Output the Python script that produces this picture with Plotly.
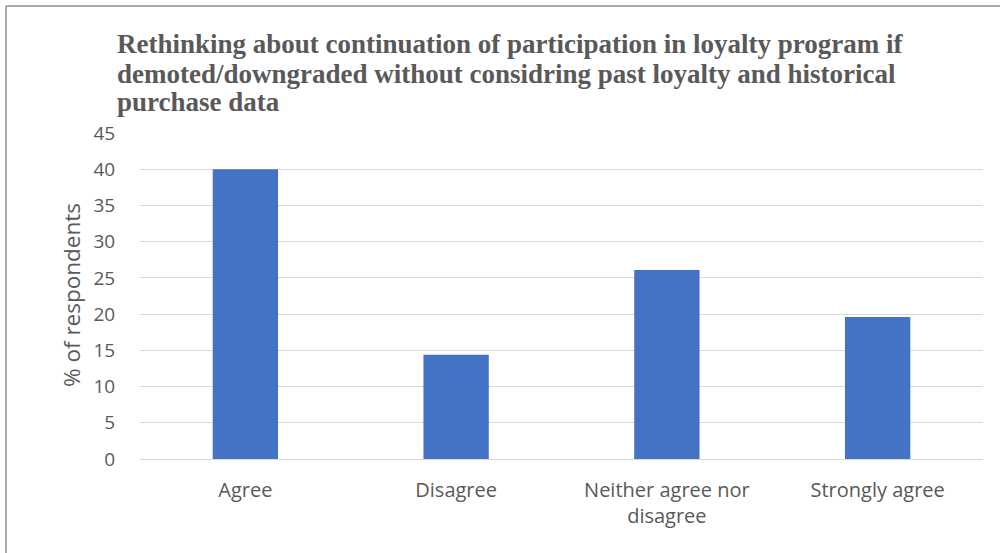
import plotly.graph_objects as go

categories = ["Agree", "Disagree", "Neither agree nor<br>disagree", "Strongly agree"]
values = [40.0, 14.4, 26.1, 19.6]
y_ticks = [0, 5, 10, 15, 20, 25, 30, 35, 40, 45]
title_lines = [
    "Rethinking about continuation of participation in loyalty program if",
    "demoted/downgraded without considring past loyalty and historical",
    "purchase data",
]
y_title = "% of respondents"

W, H = 1000, 553
L, R, T, B = 140, 17, 133, 94
pw, ph = W - L - R, H - T - B

fig = go.Figure(go.Bar(
    x=categories, y=values, width=0.31,
    marker=dict(color="#4472C4", line=dict(width=0)),
))

def px_x(p):
    return (p - L) / pw

def px_y(p):
    return 1 - (p - T) / ph

annotations = []
baselines = [44, 74, 102]
for line, yb in zip(title_lines, baselines):
    annotations.append(dict(
        text="<b>" + line + "</b>", xref="paper", yref="paper",
        x=px_x(115), y=px_y(yb), xanchor="left", yanchor="middle",
        showarrow=False, font=dict(family="Liberation Serif", size=27, color="#595959"),
    ))
annotations.append(dict(
    text=y_title, xref="paper", yref="paper", x=px_x(71), y=px_y(295),
    xanchor="center", yanchor="middle", textangle=-90, showarrow=False,
    font=dict(family="Open Sans", size=22.5, color="#595959"),
))

shapes = [
    dict(type="line", xref="paper", yref="paper", x0=px_x(6), x1=px_x(1005), y0=px_y(6), y1=px_y(6),
         line=dict(color="#8c8c8c", width=1.5)),
    dict(type="line", xref="paper", yref="paper", x0=px_x(6), x1=px_x(6), y0=px_y(6), y1=px_y(560),
         line=dict(color="#8c8c8c", width=1.5)),
]

fig.update_layout(
    width=W, height=H, margin=dict(l=L, r=R, t=T, b=B),
    paper_bgcolor="white", plot_bgcolor="white",
    showlegend=False, annotations=annotations, shapes=shapes,
    font=dict(family="Open Sans", size=19, color="#595959"),
    bargap=0.69,
)
fig.update_xaxes(showgrid=False, showline=True, linecolor="#d9d9d9", linewidth=1,
                 tickfont=dict(size=20, color="#595959"), ticks="outside", ticklen=13, tickcolor="rgba(0,0,0,0)")
fig.update_yaxes(range=[0, 45], tickvals=y_ticks, showgrid=True, gridcolor="#d9d9d9", gridwidth=1,
                 zeroline=False, showline=False, ticks="outside", ticklen=20, tickcolor="rgba(0,0,0,0)",
                 tickfont=dict(size=19, color="#595959"))

fig.write_html("out.html")
